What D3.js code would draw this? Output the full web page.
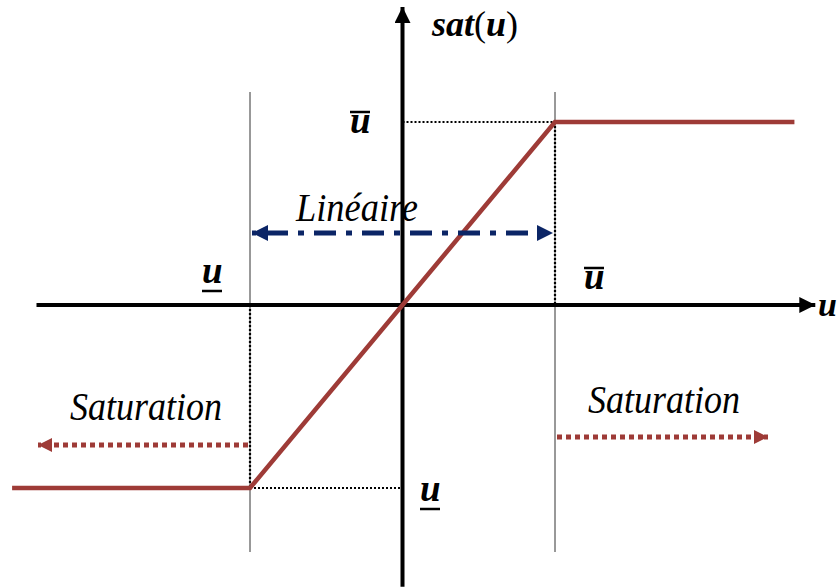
<!DOCTYPE html>
<html>
<head>
<meta charset="utf-8">
<script src="https://cdn.jsdelivr.net/npm/d3@7"></script>
<style>
  html, body { margin: 0; padding: 0; background: #fff; }
  svg { display: block; }
  svg text { font-family: "Liberation Serif", "Times New Roman", Tinos, serif !important; }
</style>
</head>
<body>
<svg id="chart" width="840" height="587"></svg>
<script>
// Saturation function sat(u): breakpoints of the piecewise-linear curve
const uPoints   = [-2.56, -1, 1, 2.57];
const satValues = [-1, -1, 1, 1];
// Saturation limits (lower / upper)
const uLimits = [-1, 1];
// Axis extents in u and sat units
const uAxisExtent   = [-2.4, 2.72];
const satAxisExtent = [-1.54, 1.64];

const svg = d3.select("#chart");
const x = d3.scaleLinear().domain([-1, 1]).range([250, 555]);
const y = d3.scaleLinear().domain([-1, 1]).range([488, 122]);
const x0 = x(0), y0 = y(0);

const red = "#9e3b37";
const navy = "#0b2566";
const serifStack = '"Liberation Serif", "Times New Roman", Tinos, serif';

const defs = svg.append("defs");
const gGrid = svg.append("g");
const gMarks = svg.append("g");
const gText = svg.append("g");

function marker(id, color, w, h, orient) {
  defs.append("marker")
    .attr("id", id).attr("viewBox", "0 0 10 10")
    .attr("refX", 10).attr("refY", 5)
    .attr("markerWidth", w).attr("markerHeight", h)
    .attr("markerUnits", "userSpaceOnUse")
    .attr("orient", orient || "auto")
    .append("path").attr("d", "M0,0 L10,5 L0,10 Z").attr("fill", color);
}
marker("arrBlack", "#000", 16, 16);
marker("arrNavy", navy, 20, 16, "auto-start-reverse");
marker("arrRed", red, 16, 14);

// Labels
function txt(s, xp, yp, size, opts = {}) {
  const t = gText.append("text")
    .attr("x", xp).attr("y", yp)
    .style("font-family", serifStack, "important")
    .style("font-size", size + "px")
    .style("font-style", "italic")
    .style("font-weight", opts.weight || "bold")
    .attr("fill", "#000")
    .text(s);
  if (opts.len) t.attr("textLength", opts.len).attr("lengthAdjust", "spacingAndGlyphs");
  return t;
}
function barU(xp, yp, under) {
  txt("u", xp, yp, 37);
  const ly = under ? yp + 8 : yp - 21;
  gText.append("line")
    .attr("x1", xp).attr("x2", xp + 20)
    .attr("y1", ly).attr("y2", ly)
    .attr("stroke", "#000").attr("stroke-width", 2.5);
}

const sat = txt("", 432, 36, 36);
sat.append("tspan").text("sat");
sat.append("tspan").style("font-style", "normal").style("font-weight", "normal").text("(");
sat.append("tspan").text("u");
sat.append("tspan").style("font-style", "normal").style("font-weight", "normal").text(")");

barU(350, 133, false);
barU(584, 289, false);
barU(202, 283, true);
barU(420, 501, true);
txt("u", 818, 316, 34);

txt("Linéaire", 296, 221, 39, { weight: "normal", len: 122 });
txt("Saturation", 70, 420, 39, { weight: "normal", len: 152 });
txt("Saturation", 588, 413, 39, { weight: "normal", len: 152 });

// Boundary lines of the linear zone
uLimits.forEach(u => {
  gGrid.append("line")
    .attr("x1", x(u)).attr("x2", x(u))
    .attr("y1", 92).attr("y2", 552)
    .attr("stroke", "#333").attr("stroke-width", 1);
});

// Dotted guides to the saturation levels
function dotted(x1, y1, x2, y2) {
  gGrid.append("line").attr("x1", x1).attr("y1", y1).attr("x2", x2).attr("y2", y2)
    .attr("stroke", "#000").attr("stroke-width", 2.2).attr("stroke-dasharray", "2,2");
}
dotted(x0, y(1), x(1), y(1));
dotted(x(1), y(1), x(1), y0);
dotted(x(-1), y(-1), x0, y(-1));
dotted(x(-1), y0, x(-1), y(-1));

// Axes
gMarks.append("line")
  .attr("x1", x(uAxisExtent[0])).attr("x2", x(uAxisExtent[1]) - 2)
  .attr("y1", y0).attr("y2", y0)
  .attr("stroke", "#000").attr("stroke-width", 4)
  .attr("marker-end", "url(#arrBlack)");
gMarks.append("line")
  .attr("x1", x0).attr("x2", x0)
  .attr("y1", y(satAxisExtent[0])).attr("y2", y(satAxisExtent[1]) + 2)
  .attr("stroke", "#000").attr("stroke-width", 4)
  .attr("marker-end", "url(#arrBlack)");

// sat(u) curve
const line = d3.line().x(d => x(d)).y((d, i) => y(satValues[i]));
gMarks.append("path")
  .datum(uPoints)
  .attr("d", line)
  .attr("fill", "none")
  .attr("stroke", red)
  .attr("stroke-width", 4.5)
  .attr("stroke-linejoin", "miter");

// Linear-zone double arrow
gMarks.append("line")
  .attr("x1", x(-1) + 2).attr("x2", x(1) - 2)
  .attr("y1", 233).attr("y2", 233)
  .attr("stroke", navy).attr("stroke-width", 5)
  .attr("stroke-dasharray", "22,10,6,10")
  .attr("stroke-dashoffset", -14)
  .attr("marker-start", "url(#arrNavy)")
  .attr("marker-end", "url(#arrNavy)");

// Saturation arrows
gMarks.append("line")
  .attr("x1", x(-1) - 2).attr("x2", 38)
  .attr("y1", 445).attr("y2", 445)
  .attr("stroke", red).attr("stroke-width", 5)
  .attr("stroke-dasharray", "5,4")
  .attr("marker-end", "url(#arrRed)");
gMarks.append("line")
  .attr("x1", x(1) + 2).attr("x2", 768)
  .attr("y1", 437).attr("y2", 437)
  .attr("stroke", red).attr("stroke-width", 5)
  .attr("stroke-dasharray", "5,4")
  .attr("marker-end", "url(#arrRed)");
</script>
</body>
</html>
